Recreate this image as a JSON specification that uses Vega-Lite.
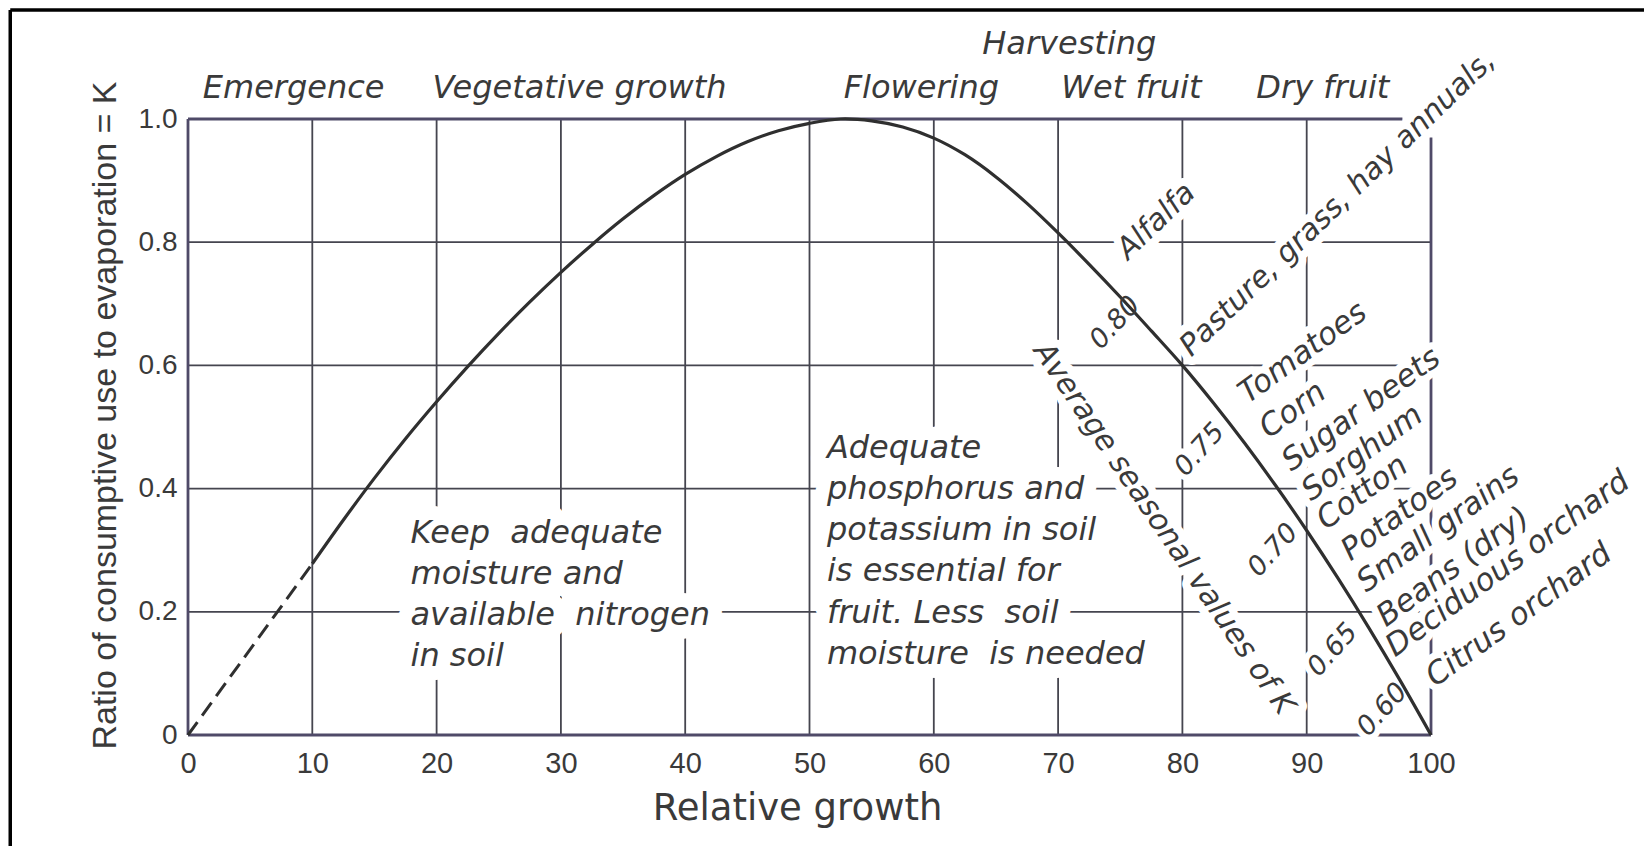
{
  "$schema": "https://vega.github.io/schema/vega-lite/v6.json",
  "width": 1243,
  "height": 616,
  "autosize": {"type": "none"},
  "padding": {"left": 188, "top": 119, "right": 213, "bottom": 111},
  "background": "white",
  "config": {"view": {"stroke": null}},
  "datasets": {
    "border": [
      {"x": -14.3, "y": -0.3, "x2": -14.3, "y2": 1.177},
      {"x": -14.3, "y": 1.177, "x2": 120, "y2": 1.177}
    ],
    "grid": [
      {"x": 10, "y": 0, "x2": 10, "y2": 1},
      {"x": 20, "y": 0, "x2": 20, "y2": 1},
      {"x": 30, "y": 0, "x2": 30, "y2": 1},
      {"x": 40, "y": 0, "x2": 40, "y2": 1},
      {"x": 50, "y": 0, "x2": 50, "y2": 1},
      {"x": 60, "y": 0, "x2": 60, "y2": 1},
      {"x": 70, "y": 0, "x2": 70, "y2": 1},
      {"x": 80, "y": 0, "x2": 80, "y2": 1},
      {"x": 90, "y": 0, "x2": 90, "y2": 1},
      {"x": 0, "y": 0.2, "x2": 100, "y2": 0.2},
      {"x": 0, "y": 0.4, "x2": 100, "y2": 0.4},
      {"x": 0, "y": 0.6, "x2": 100, "y2": 0.6},
      {"x": 0, "y": 0.8, "x2": 100, "y2": 0.8}
    ],
    "frame": [
      {"x": 0, "y": 0, "x2": 0, "y2": 1},
      {"x": 0, "y": 1, "x2": 97.7, "y2": 1},
      {"x": 0, "y": 0, "x2": 100, "y2": 0},
      {"x": 100, "y": 0, "x2": 100, "y2": 0.97}
    ],
    "dashed": [
      {"x": 0, "y": 0},
      {"x": 10, "y": 0.278}
    ],
    "curve": [
      {"x": 10, "y": 0.278},
      {"x": 12.5, "y": 0.349},
      {"x": 15, "y": 0.417},
      {"x": 17.5, "y": 0.481},
      {"x": 20, "y": 0.541},
      {"x": 22.5, "y": 0.598},
      {"x": 25, "y": 0.652},
      {"x": 27.5, "y": 0.703},
      {"x": 30, "y": 0.751},
      {"x": 32.5, "y": 0.796},
      {"x": 35, "y": 0.838},
      {"x": 37.5, "y": 0.876},
      {"x": 40, "y": 0.91},
      {"x": 42.5, "y": 0.939},
      {"x": 45, "y": 0.963},
      {"x": 47.5, "y": 0.981},
      {"x": 50, "y": 0.993},
      {"x": 52.5, "y": 1.0},
      {"x": 55, "y": 0.997},
      {"x": 57.5, "y": 0.987},
      {"x": 60, "y": 0.969},
      {"x": 62.5, "y": 0.942},
      {"x": 65, "y": 0.906},
      {"x": 67.5, "y": 0.863},
      {"x": 70, "y": 0.815},
      {"x": 72.5, "y": 0.764},
      {"x": 75, "y": 0.711},
      {"x": 77.5, "y": 0.656},
      {"x": 80, "y": 0.6},
      {"x": 82.5, "y": 0.539},
      {"x": 85, "y": 0.474},
      {"x": 87.5, "y": 0.405},
      {"x": 90, "y": 0.332},
      {"x": 92.5, "y": 0.255},
      {"x": 95, "y": 0.174},
      {"x": 97.5, "y": 0.089},
      {"x": 100, "y": 0}
    ],
    "top": [
      {"x": 8.5, "y": 1.051, "text": "Emergence"},
      {"x": 31.5, "y": 1.051, "text": "Vegetative growth"},
      {"x": 59.0, "y": 1.051, "text": "Flowering"},
      {"x": 75.9, "y": 1.051, "text": "Wet fruit"},
      {"x": 91.3, "y": 1.051, "text": "Dry fruit"},
      {"x": 70.9, "y": 1.121, "text": "Harvesting"}
    ],
    "blocks": [
      {"x": 17.9, "y": 0.328, "text": "Keep\u00a0 adequate"},
      {"x": 17.9, "y": 0.262, "text": "moisture and"},
      {"x": 17.9, "y": 0.195, "text": "available\u00a0 nitrogen"},
      {"x": 17.9, "y": 0.128, "text": "in soil"},
      {"x": 51.4, "y": 0.466, "text": "Adequate"},
      {"x": 51.4, "y": 0.400, "text": "phosphorus and"},
      {"x": 51.4, "y": 0.333, "text": "potassium in soil"},
      {"x": 51.4, "y": 0.266, "text": "is essential for"},
      {"x": 51.4, "y": 0.198, "text": "fruit. Less\u00a0 soil"},
      {"x": 51.4, "y": 0.131, "text": "moisture\u00a0 is needed"}
    ],
    "average": [
      {"x": 78.5, "y": 0.335, "text": "Average seasonal values of K"}
    ],
    "kvalues": [
      {"x": 74.6, "y": 0.669, "text": "0.80"},
      {"x": 81.4, "y": 0.463, "text": "0.75"},
      {"x": 87.3, "y": 0.300, "text": "0.70"},
      {"x": 92.1, "y": 0.138, "text": "0.65"},
      {"x": 96.1, "y": 0.041, "text": "0.60"}
    ],
    "cropsSteep": [
      {"x": 77.9, "y": 0.834, "text": "Alfalfa"},
      {"x": 92.5, "y": 0.863, "text": "Pasture, grass, hay annuals,"}
    ],
    "crops": [
      {"x": 89.7, "y": 0.62, "text": "Tomatoes"},
      {"x": 88.9, "y": 0.527, "text": "Corn"},
      {"x": 94.4, "y": 0.528, "text": "Sugar beets"},
      {"x": 94.5, "y": 0.4575, "text": "Sorghum"},
      {"x": 94.5, "y": 0.393, "text": "Cotton"},
      {"x": 97.5, "y": 0.358, "text": "Potatoes"},
      {"x": 100.6, "y": 0.334, "text": "Small grains"},
      {"x": 101.8, "y": 0.272, "text": "Beans (dry)"},
      {"x": 106.2, "y": 0.277, "text": "Deciduous orchard"},
      {"x": 107.1, "y": 0.194, "text": "Citrus orchard"}
    ]
  },
  "encoding": {
    "x": {
      "field": "x", "type": "quantitative",
      "scale": {"domain": [0, 100], "nice": false, "zero": false},
      "axis": {
        "values": [0, 10, 20, 30, 40, 50, 60, 70, 80, 90, 100],
        "grid": false, "domain": false, "ticks": false, "tickSize": 0,
        "labelFont": "Liberation Sans", "labelFontSize": 29, "labelColor": "#3a3a3a",
        "labelPadding": 14, "labelFlush": false, "labelOverlap": false,
        "title": "Relative growth", "titleFont": "DejaVu Sans", "titleFontSize": 37,
        "titleFontWeight": "normal", "titleColor": "#3a3a3a",
        "titleX": 609, "titleY": 55, "titleBaseline": "top", "titleAlign": "center"
      }
    },
    "y": {
      "field": "y", "type": "quantitative",
      "scale": {"domain": [0, 1], "nice": false, "zero": false},
      "axis": {
        "values": [0, 0.2, 0.4, 0.6, 0.8, 1],
        "labelExpr": "datum.value == 0 ? '0' : format(datum.value, '.1f')",
        "grid": false, "domain": false, "ticks": false, "tickSize": 0,
        "labelFont": "Liberation Sans", "labelFontSize": 28, "labelColor": "#3a3a3a",
        "labelPadding": 11, "labelFlush": false, "labelOverlap": false,
        "title": "Ratio of consumptive use to evaporation = K",
        "titleFont": "Liberation Sans", "titleFontSize": 34,
        "titleFontWeight": "normal", "titleColor": "#3a3a3a",
        "titleX": -66, "titleY": 296, "titleAngle": -90, "titleBaseline": "bottom", "titleAlign": "center"
      }
    }
  },
  "layer": [
    {
      "data": {"name": "border"},
      "mark": {"type": "rule", "color": "#000000", "strokeWidth": 3.5},
      "encoding": {"x2": {"field": "x2"}, "y2": {"field": "y2"}}
    },
    {
      "data": {"name": "grid"},
      "mark": {"type": "rule", "color": "#45454f", "strokeWidth": 1.8},
      "encoding": {"x2": {"field": "x2"}, "y2": {"field": "y2"}}
    },
    {
      "data": {"name": "frame"},
      "mark": {"type": "rule", "color": "#4f4a68", "strokeWidth": 2.8},
      "encoding": {"x2": {"field": "x2"}, "y2": {"field": "y2"}}
    },
    {
      "data": {"name": "top"},
      "mark": {"type": "text", "font": "DejaVu Sans", "fontStyle": "italic", "fontSize": 32, "align": "center", "baseline": "middle", "color": "white", "stroke": "white", "strokeWidth": 12, "strokeJoin": "round"},
      "encoding": {"text": {"field": "text"}}
    },
    {
      "data": {"name": "blocks"},
      "mark": {"type": "text", "font": "DejaVu Sans", "fontStyle": "italic", "fontSize": 32, "align": "left", "baseline": "middle", "color": "white", "stroke": "white", "strokeWidth": 28, "strokeJoin": "round"},
      "encoding": {"text": {"field": "text"}}
    },
    {
      "data": {"name": "average"},
      "mark": {"type": "text", "font": "DejaVu Sans", "fontStyle": "italic", "fontSize": 30, "align": "center", "baseline": "middle", "angle": 56, "color": "white", "stroke": "white", "strokeWidth": 16, "strokeJoin": "round"},
      "encoding": {"text": {"field": "text"}}
    },
    {
      "data": {"name": "kvalues"},
      "mark": {"type": "text", "font": "DejaVu Sans", "fontStyle": "italic", "fontSize": 27, "align": "center", "baseline": "middle", "angle": -48, "color": "white", "stroke": "white", "strokeWidth": 12, "strokeJoin": "round"},
      "encoding": {"text": {"field": "text"}}
    },
    {
      "data": {"name": "cropsSteep"},
      "mark": {"type": "text", "font": "DejaVu Sans", "fontStyle": "italic", "fontSize": 30, "align": "center", "baseline": "middle", "angle": -44, "color": "white", "stroke": "white", "strokeWidth": 16, "strokeJoin": "round"},
      "encoding": {"text": {"field": "text"}}
    },
    {
      "data": {"name": "crops"},
      "mark": {"type": "text", "font": "DejaVu Sans", "fontStyle": "italic", "fontSize": 31, "align": "center", "baseline": "middle", "angle": -36, "color": "white", "stroke": "white", "strokeWidth": 14, "strokeJoin": "round"},
      "encoding": {"text": {"field": "text"}}
    },
    {
      "data": {"name": "dashed"},
      "mark": {"type": "line", "color": "#2f2f2f", "strokeWidth": 3, "strokeDash": [16, 8]},
      "encoding": {}
    },
    {
      "data": {"name": "curve"},
      "mark": {"type": "line", "color": "#2f2f2f", "strokeWidth": 3.2, "interpolate": "catmull-rom"},
      "encoding": {}
    },
    {
      "data": {"name": "top"},
      "mark": {"type": "text", "font": "DejaVu Sans", "fontStyle": "italic", "fontSize": 32, "align": "center", "baseline": "middle", "color": "#3a3a3a"},
      "encoding": {"text": {"field": "text"}}
    },
    {
      "data": {"name": "blocks"},
      "mark": {"type": "text", "font": "DejaVu Sans", "fontStyle": "italic", "fontSize": 32, "align": "left", "baseline": "middle", "color": "#3a3a3a"},
      "encoding": {"text": {"field": "text"}}
    },
    {
      "data": {"name": "average"},
      "mark": {"type": "text", "font": "DejaVu Sans", "fontStyle": "italic", "fontSize": 30, "align": "center", "baseline": "middle", "angle": 56, "color": "#3a3a3a"},
      "encoding": {"text": {"field": "text"}}
    },
    {
      "data": {"name": "kvalues"},
      "mark": {"type": "text", "font": "DejaVu Sans", "fontStyle": "italic", "fontSize": 27, "align": "center", "baseline": "middle", "angle": -48, "color": "#3a3a3a"},
      "encoding": {"text": {"field": "text"}}
    },
    {
      "data": {"name": "cropsSteep"},
      "mark": {"type": "text", "font": "DejaVu Sans", "fontStyle": "italic", "fontSize": 30, "align": "center", "baseline": "middle", "angle": -44, "color": "#3a3a3a"},
      "encoding": {"text": {"field": "text"}}
    },
    {
      "data": {"name": "crops"},
      "mark": {"type": "text", "font": "DejaVu Sans", "fontStyle": "italic", "fontSize": 31, "align": "center", "baseline": "middle", "angle": -36, "color": "#3a3a3a"},
      "encoding": {"text": {"field": "text"}}
    }
  ]
}
